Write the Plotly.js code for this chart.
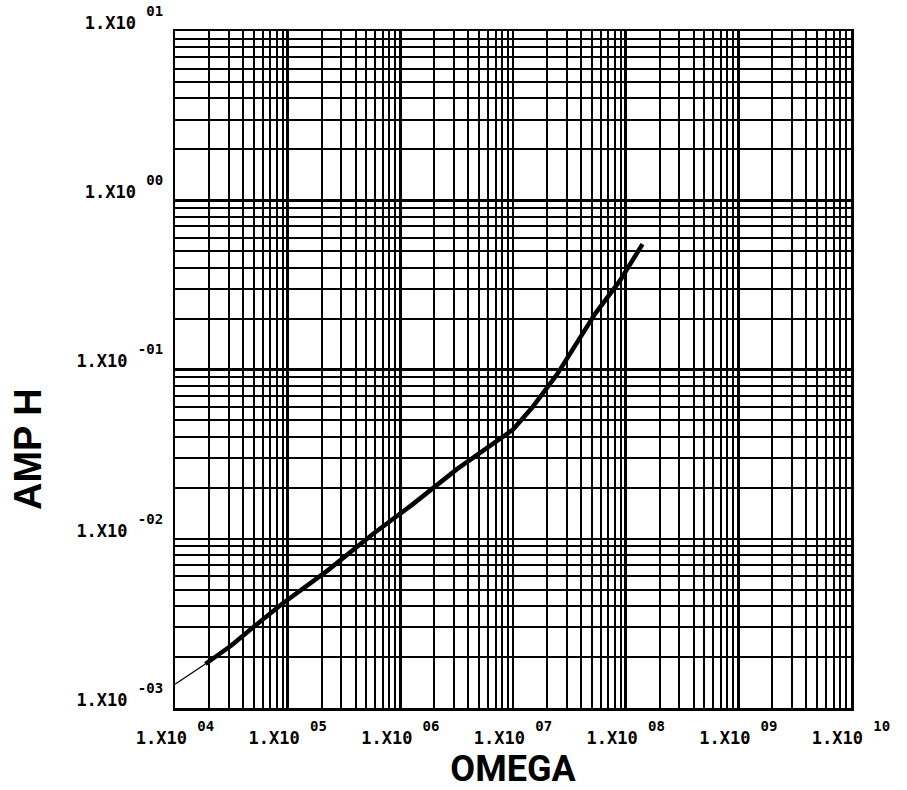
<!DOCTYPE html>
<html><head><meta charset="utf-8">
<script src="https://cdn.plot.ly/plotly-3.0.1.min.js"></script>
<style>html,body{margin:0;padding:0;background:#fff}</style>
</head><body><div id="chart" style="width:907px;height:790px"></div>
<script>
// Curve (thin start, then heavy trace)
const omegaThin = [1.0e4, 1.86e4];
const ampThin = [1.38e-3, 1.82e-3];
const omegaThick = [1.86e4, 3.16e4, 5.0e4, 8.9e4, 2.24e5, 5.75e5, 1.26e6, 3.16e6, 1.0e7, 1.48e7, 2.45e7, 5.37e7, 8.9e7, 1.41e8];
const ampThick = [1.82e-3, 2.34e-3, 3.02e-3, 4.12e-3, 6.46e-3, 1.07e-2, 1.58e-2, 2.57e-2, 4.42e-2, 5.96e-2, 9.33e-2, 0.214, 0.335, 0.55];

// Tick labels
const xTickVals = [1e4, 1e5, 1e6, 1e7, 1e8, 1e9, 1e10];
const xTickExp = ['04', '05', '06', '07', '08', '09', '10'];
const yTickVals = [1e-3, 1e-2, 1e-1, 1e0, 1e1];
const yTickExp = ['-03', '-02', '-01', '00', '01'];
const tickBase = '1.X10';

const xTitle = 'OMEGA';
const yTitle = 'AMP H';

function label(e) {
  return tickBase + ' <sup><span style="font-size:14px;baseline-shift:6px">' + e + '</span></sup>';
}
function minorVals(lo, hi) {
  const v = [];
  for (let d = lo; d < hi; d++) for (let k = 2; k <= 9; k++) v.push(k * Math.pow(10, d));
  return v;
}

const tickFont = {family: 'DejaVu Sans Mono, monospace', size: 17, weight: 'bold', color: '#000'};

const axisCommon = {
  type: 'log', tickmode: 'array', showgrid: true, gridcolor: '#000', gridwidth: 2.5,
  showline: true, mirror: true, linecolor: '#000', linewidth: 2.5, ticks: '', zeroline: false,
  tickfont: tickFont
};

const data = [
  {x: omegaThin, y: ampThin, mode: 'lines', line: {color: '#000', width: 1.2}, hoverinfo: 'skip', showlegend: false},
  {x: omegaThick, y: ampThick, mode: 'lines', line: {color: '#000', width: 4.5}, hoverinfo: 'skip', showlegend: false}
];

const layout = {
  width: 907, height: 790,
  margin: {l: 175, r: 56, t: 31, b: 82},
  paper_bgcolor: '#fff', plot_bgcolor: '#fff',
  xaxis: Object.assign({}, axisCommon, {
    range: [4, 10], tickvals: xTickVals, ticktext: xTickExp.map(label),
    minor: {tickmode: 'array', tickvals: minorVals(4, 10), showgrid: true, gridcolor: '#000', gridwidth: 2, ticks: ''},
    ticklabelstandoff: 13,
    title: {text: xTitle, font: {family: 'Roboto, sans-serif', size: 36, weight: 'bold', color: '#000'}, standoff: 6}
  }),
  yaxis: Object.assign({}, axisCommon, {
    range: [-3, 1], tickvals: yTickVals, ticktext: yTickExp.map(label),
    minor: {tickmode: 'array', tickvals: minorVals(-3, 1), showgrid: true, gridcolor: '#000', gridwidth: 2, ticks: ''},
    ticklabelshift: -8, ticklabelstandoff: 6
  }),
  annotations: [{
    text: yTitle, textangle: -90, xref: 'paper', yref: 'paper',
    x: (28 - 175) / 676, y: (708 - 449) / 677, xanchor: 'center', yanchor: 'middle', showarrow: false,
    font: {family: 'Liberation Sans, Arial, sans-serif', size: 38, weight: 'bold', color: '#000'}
  }]
};

Plotly.newPlot('chart', data, layout, {displayModeBar: false, staticPlot: true});
</script>
</body></html>
